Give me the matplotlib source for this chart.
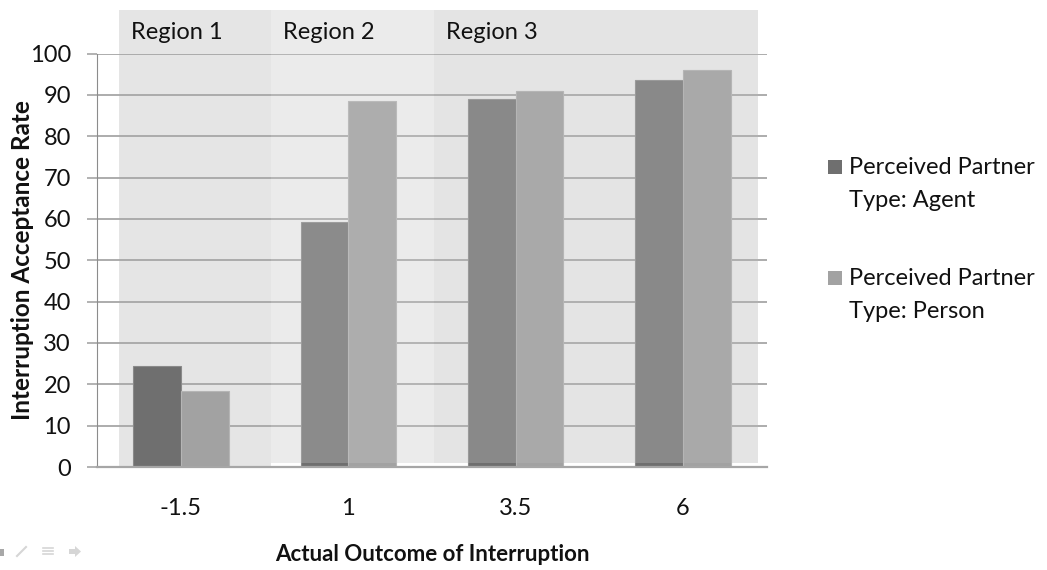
import numpy as np
import matplotlib
matplotlib.use("Agg")
import matplotlib.pyplot as plt
from matplotlib.patches import Rectangle, Polygon

plt.rcParams["font.family"] = ["Lato", "DejaVu Sans"]

# acceptance rate (%) per outcome, two perceived partner types
outcomes = ["-1.5", "1", "3.5", "6"]
agent = [24.4, 59.3, 89.0, 93.5]
person = [18.3, 88.6, 90.9, 95.9]
series_names = ["Perceived Partner\nType: Agent", "Perceived Partner\nType: Person"]

# shaded bands: (label, left, right) in category units
regions = [("Region 1", -0.37, 0.538), ("Region 2", 0.538, 1.512), ("Region 3", 1.512, 3.447)]

W, H = 1047, 570
fig = plt.figure(figsize=(W / 100, H / 100), dpi=100)
ax = fig.add_axes([97.3 / W, 1 - 467 / H, (766.7 - 97.3) / W, (467 - 53.5) / H])

x = np.arange(len(outcomes))
bw = 0.285
c_agent, c_person = "#6f6f6f", "#a2a2a2"
ink = "#111111"

ax.set_xlim(-0.5, len(outcomes) - 0.5)
ax.set_ylim(0, 100)
ax.set_yticks(range(0, 101, 10))
ax.set_xticks(x, outcomes)

ax.yaxis.grid(True, color="#a6a6a6", linewidth=1.3, zorder=1)
ax.set_axisbelow(True)

# region 1 band sits behind the bars
lab, l, r = regions[0]
ax.add_patch(Rectangle((l, -0.35), r - l, 110.95, facecolor="#e5e5e5", edgecolor="none",
                       zorder=0.5, clip_on=False))

ax.bar(x - bw / 2, agent, bw, color=c_agent, edgecolor="#8a8a8a", linewidth=0.8, zorder=2)
ax.bar(x + bw / 2, person, bw, color=c_person, edgecolor="#b5b5b5", linewidth=0.8, zorder=2)

# regions 2 and 3 are translucent panels laid over the bars
overlays = {"Region 2": ("#c5c5c5", 0.33), "Region 3": ("#b6b6b6", 0.37)}
for lab, l, r in regions[1:]:
    fc, a = overlays[lab]
    ax.add_patch(Rectangle((l, 1.04), r - l, 110.6 - 1.04, facecolor=fc, alpha=a,
                           edgecolor="none", zorder=3, clip_on=False))

for lab, l, r in regions:
    ax.text(l + 0.07, 103.4, lab, fontsize=17, color=ink, va="baseline",
            ha="left", zorder=5, clip_on=False)

for s in ["top", "right"]:
    ax.spines[s].set_visible(False)
ax.spines["left"].set_color("#8c8c8c")
ax.spines["bottom"].set_color("#a6a6a6")
ax.spines["bottom"].set_linewidth(1.6)
ax.spines["bottom"].set_zorder(4)
ax.tick_params(axis="y", length=7, color="#a6a6a6", width=1.2, pad=12, labelsize=17,
               labelcolor=ink)
ax.tick_params(axis="x", length=0, pad=22, labelsize=17, labelcolor=ink)

ax.set_xlabel("Actual Outcome of Interruption", fontsize=16, fontweight="bold",
              labelpad=18, color=ink)
ax.set_ylabel("Interruption Acceptance Rate", fontsize=17.5, fontweight="bold", color=ink)
ax.yaxis.set_label_coords((34 - 97.3) / 669.4, 0.5)

# legend drawn by hand: square beside the first line of each two-line label
for i, (name, col) in enumerate(zip(series_names, [c_agent, c_person])):
    base = 174 + i * 110.7
    fig.patches.append(Rectangle((828 / W, 1 - base / H), 14 / W, 14 / H,
                                 facecolor=col, edgecolor="none", transform=fig.transFigure))
    for k, line in enumerate(name.split("\n")):
        fig.text(849 / W, 1 - (base + 33 * k) / H, line, fontsize=17, va="baseline",
                 ha="left", color=ink)

# faint slide toolbar in the corner
tb = "#d6d6d6"
fig.patches.append(Rectangle((0, 1 - 556 / H), 4 / W, 7 / H, facecolor="#a8a8a8",
                             edgecolor="none", transform=fig.transFigure))
fig.lines.append(plt.Line2D([17 / W, 26 / W], [1 - 556 / H, 1 - 547 / H], color=tb,
                            linewidth=1.5, transform=fig.transFigure))
for yy in (548, 551, 554):
    fig.lines.append(plt.Line2D([43 / W, 53 / W], [1 - yy / H, 1 - yy / H], color=tb,
                                linewidth=1.2, transform=fig.transFigure))
arrow = np.array([[69, 549], [75, 549], [75, 546], [81, 551.5], [75, 557], [75, 554], [69, 554]])
fig.patches.append(Polygon(np.column_stack([arrow[:, 0] / W, 1 - arrow[:, 1] / H]),
                           closed=True, facecolor=tb, edgecolor="none",
                           transform=fig.transFigure))

fig.savefig("out.png", dpi=100)
